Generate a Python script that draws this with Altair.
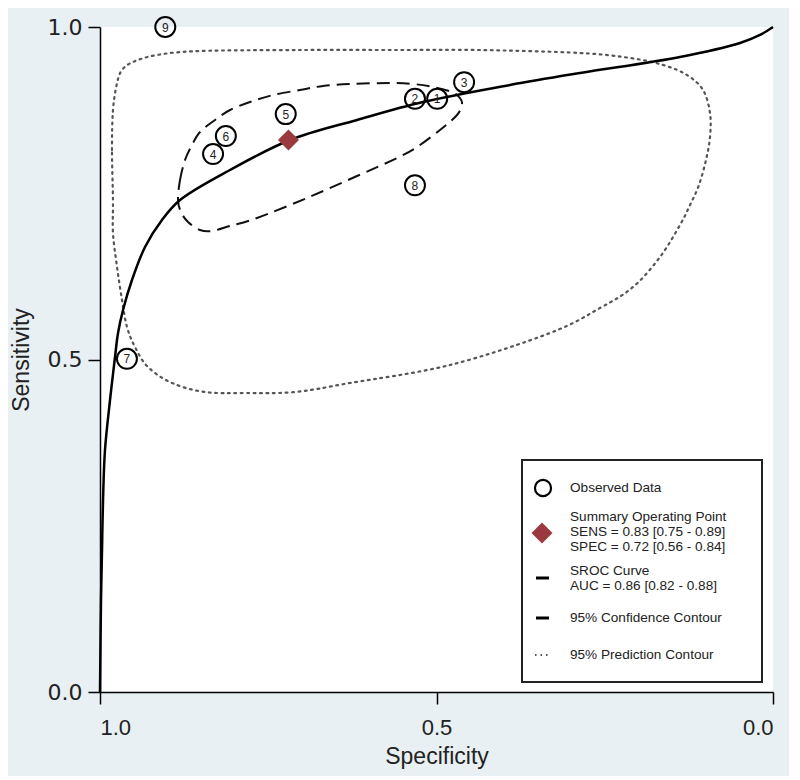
import altair as alt
import pandas as pd

# ---------------- data ----------------
study_ids = ["1", "2", "3", "4", "5", "6", "7", "8", "9"]
study_spec = [0.499, 0.532, 0.459, 0.832, 0.724, 0.813, 0.960, 0.532, 0.903]
study_sens = [0.892, 0.892, 0.917, 0.809, 0.869, 0.836, 0.501, 0.762, 1.000]

summary_spec = [0.72]
summary_sens = [0.83]

sroc_spec = [1.0, 0.9985, 0.997, 0.9955, 0.9926, 0.9851, 0.9777, 0.9732, 0.9658,
             0.9525, 0.9331, 0.9079, 0.8811, 0.8068, 0.7177, 0.6181, 0.5201,
             0.3908, 0.2868, 0.1382, 0.0490, 0.0193, 0.0]
sroc_sens = [0.0, 0.1383, 0.2135, 0.2887, 0.3639, 0.4391, 0.5038, 0.5398, 0.5744,
             0.6195, 0.6692, 0.7098, 0.7398, 0.7850, 0.8301, 0.8602, 0.8872,
             0.9128, 0.9308, 0.9549, 0.9759, 0.9880, 1.0]

conf_spec = [0.8841, 0.8811, 0.8737, 0.8633, 0.8514, 0.8291, 0.8068, 0.7771, 0.7429,
             0.7028, 0.6686, 0.6285, 0.5691, 0.5349, 0.5052, 0.4770, 0.4651, 0.4621,
             0.4695, 0.4948, 0.5290, 0.5587, 0.6181, 0.6924, 0.7667, 0.8068, 0.8336,
             0.8514, 0.8692, 0.8796]
conf_sens = [0.7398, 0.7699, 0.8000, 0.8226, 0.8421, 0.8602, 0.8752, 0.8872, 0.8977,
             0.9053, 0.9113, 0.9143, 0.9158, 0.9143, 0.9098, 0.9023, 0.8932, 0.8842,
             0.8677, 0.8451, 0.8195, 0.8030, 0.7759, 0.7429, 0.7128, 0.7008, 0.6932,
             0.6947, 0.7068, 0.7218]

pred_spec = [0.9807, 0.9822, 0.9807, 0.9747, 0.9673, 0.9510, 0.9153, 0.8514, 0.7028,
             0.5542, 0.4354, 0.2868, 0.2125, 0.1634, 0.1278, 0.1040, 0.0936, 0.0936,
             0.0996, 0.1100, 0.1233, 0.1382, 0.1679, 0.2080, 0.2571, 0.3314, 0.4799,
             0.6285, 0.7103, 0.7845, 0.8440, 0.8930, 0.9287, 0.9480, 0.9599, 0.9673,
             0.9747, 0.9807]
pred_sens = [0.7398, 0.8150, 0.8752, 0.9158, 0.9353, 0.9474, 0.9579, 0.9639, 0.9654,
             0.9654, 0.9654, 0.9609, 0.9534, 0.9429, 0.9278, 0.9053, 0.8707, 0.8346,
             0.8000, 0.7624, 0.7323, 0.7023, 0.6541, 0.6090, 0.5774, 0.5398, 0.4917,
             0.4647, 0.4511, 0.4496, 0.4511, 0.4647, 0.4887, 0.5188, 0.5489, 0.5895,
             0.6391, 0.6902]

legend_lines = ["Observed Data",
                "Summary Operating Point", "SENS = 0.83 [0.75 - 0.89]", "SPEC = 0.72 [0.56 - 0.84]",
                "SROC Curve", "AUC = 0.86 [0.82 - 0.88]",
                "95% Confidence Contour",
                "95% Prediction Contour"]

# ---------------- tables ----------------
studies = pd.DataFrame({"id": study_ids, "spec": study_spec, "sens": study_sens})
summary = pd.DataFrame({"spec": summary_spec, "sens": summary_sens})
sroc = pd.DataFrame({"spec": sroc_spec, "sens": sroc_sens, "i": range(len(sroc_spec))})
conf = pd.DataFrame({"spec": conf_spec, "sens": conf_sens, "i": range(len(conf_spec))})
pred = pd.DataFrame({"spec": pred_spec, "sens": pred_sens, "i": range(len(pred_spec))})
one = pd.DataFrame({"k": [0]})

FONT = "Liberation Sans"
TXT = "#222222"

xs = alt.Scale(domain=[0, 1], reverse=True, nice=False)
ys = alt.Scale(domain=[0, 1], nice=False)

x_enc = alt.X("spec:Q", scale=xs,
              axis=alt.Axis(title="Specificity", values=[0, 0.5, 1], format=".1f",
                            labelFontSize=22, labelFont=FONT, labelPadding=13,
                            titleFontSize=23, titleY=64, titleBaseline="middle"))
y_enc = alt.Y("sens:Q", scale=ys,
              axis=alt.Axis(title="Sensitivity", values=[0, 0.5, 1], format=".1f",
                            labelFontSize=22, labelFont="DejaVu Sans", labelPadding=6,
                            titleFontSize=23, titleX=-79, titleBaseline="middle"))

pred_layer = alt.Chart(pred).mark_line(
    interpolate="cardinal-closed", color="#555555", strokeWidth=2.2,
    strokeDash=[1.8, 4.6], strokeCap="round"
).encode(x=x_enc, y=y_enc, order="i:Q")

conf_layer = alt.Chart(conf).mark_line(
    interpolate="cardinal-closed", color="#111111", strokeWidth=2,
    strokeDash=[13, 7]
).encode(x="spec:Q", y="sens:Q", order="i:Q")

sroc_layer = alt.Chart(sroc).mark_line(
    interpolate="catmull-rom", color="#000000", strokeWidth=2.5
).encode(x="spec:Q", y="sens:Q", order="i:Q")

circ_layer = alt.Chart(studies).mark_point(
    shape="circle", filled=False, size=400, strokeWidth=2, color="#000000", opacity=1
).encode(x="spec:Q", y="sens:Q")

num_layer = alt.Chart(studies).mark_text(
    fontSize=12, font=FONT, color=TXT, baseline="middle", align="center", dy=0.5
).encode(x="spec:Q", y="sens:Q", text="id:N")

sum_layer = alt.Chart(summary).mark_point(
    shape="diamond", filled=True, size=440, color="#9b3a3e", opacity=1
).encode(x="spec:Q", y="sens:Q")

# ---------------- legend (drawn by hand) ----------------
LX0, LX1, LY0, LY1 = 422, 662, 433, 655
box = alt.Chart(one).mark_rect(fill="white", stroke="#222222", strokeWidth=2).encode(
    x=alt.value(LX0), x2=alt.value(LX1), y=alt.value(LY0), y2=alt.value(LY1))

TX = 470
def txt(s, y):
    return alt.Chart(one).mark_text(
        text=s, align="left", baseline="middle", fontSize=13.6, font=FONT, color=TXT
    ).encode(x=alt.value(TX), y=alt.value(y))

leg_y = [461, 490, 505, 520, 544, 559, 591, 628]
leg_texts = [txt(s, y) for s, y in zip(legend_lines, leg_y)]

leg_circle = alt.Chart(one).mark_point(
    shape="circle", filled=False, size=260, strokeWidth=2.2, color="#000000", opacity=1
).encode(x=alt.value(443), y=alt.value(461))
leg_diamond = alt.Chart(one).mark_point(
    shape="diamond", filled=True, size=440, color="#9b3a3e", opacity=1
).encode(x=alt.value(442), y=alt.value(506))
leg_sroc = alt.Chart(one).mark_rule(color="#000000", strokeWidth=3).encode(
    x=alt.value(436), x2=alt.value(449), y=alt.value(551))
leg_conf = alt.Chart(one).mark_rule(color="#000000", strokeWidth=3).encode(
    x=alt.value(436), x2=alt.value(449), y=alt.value(591))
leg_pred = alt.Chart(one).mark_rule(color="#555555", strokeWidth=2, strokeDash=[1.5, 4]).encode(
    x=alt.value(435), x2=alt.value(451), y=alt.value(628))

chart = alt.layer(
    pred_layer, conf_layer, sroc_layer, circ_layer, num_layer, sum_layer,
    box, *leg_texts, leg_circle, leg_diamond, leg_sroc, leg_conf, leg_pred
).properties(
    width=673, height=665,
    autosize=alt.AutoSizeParams(type="none"),
    padding={"left": 92, "top": 19, "right": 16, "bottom": 84},
    background="#e8f0f3",
).configure_view(
    fill="white", stroke=None
).configure_axis(
    grid=False, domainColor="#000000", domainWidth=1.5, tickColor="#000000",
    tickWidth=1.5, tickSize=12, labelColor=TXT, titleColor=TXT,
    titleFont=FONT, titleFontWeight="normal"
)

chart.save("out.html", embed_options={"renderer": "svg", "actions": False})
